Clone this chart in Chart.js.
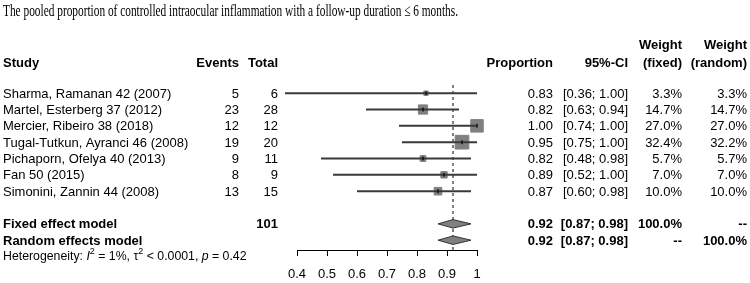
<!DOCTYPE html>
<html>
<head>
<meta charset="utf-8">
<script src="https://cdn.jsdelivr.net/npm/chart.js@4.4.1/dist/chart.umd.min.js"></script>
<style>
    html, body { margin: 0; padding: 0; background: #fff; }
    #wrap { width: 750px; height: 283px; }
</style>
</head>
<body>
<div id="wrap"><canvas id="forest" width="750" height="283"></canvas></div>
<script>
// ---------------------------------------------------------------------------
// Data
// ---------------------------------------------------------------------------
const titleText = "The pooled proportion of controlled intraocular inflammation with a follow-up duration \u2264 6 months.";

const studies = [
    "Sharma, Ramanan 42 (2007)",
    "Martel, Esterberg 37 (2012)",
    "Mercier, Ribeiro 38 (2018)",
    "Tugal-Tutkun, Ayranci 46 (2008)",
    "Pichaporn, Ofelya 40 (2013)",
    "Fan 50 (2015)",
    "Simonini, Zannin 44 (2008)",
];
const events = [5, 23, 12, 19, 9, 8, 13];
const totals = [6, 28, 12, 20, 11, 9, 15];
const proportions = [0.83, 0.82, 1.00, 0.95, 0.82, 0.89, 0.87];
const ciLow = [0.36, 0.63, 0.74, 0.75, 0.48, 0.52, 0.60];
const ciHigh = [1.00, 0.94, 1.00, 1.00, 0.98, 1.00, 0.98];
const weightFixed = [3.3, 14.7, 27.0, 32.4, 5.7, 7.0, 10.0];
const weightRandom = [3.3, 14.7, 27.0, 32.2, 5.7, 7.0, 10.0];

const models = ["Fixed effect model", "Random effects model"];
const modelEst = [0.92, 0.92];
const modelLow = [0.87, 0.87];
const modelHigh = [0.98, 0.98];
const modelWeightFixed = ["100.0%", "--"];
const modelWeightRandom = ["--", "100.0%"];
const totalPatients = 101;

const hetI2 = "1%";
const hetTau2 = "< 0.0001";
const hetP = "0.42";

const axisTicks = [0.4, 0.5, 0.6, 0.7, 0.8, 0.9, 1.0];

// ---------------------------------------------------------------------------
// Layout
// ---------------------------------------------------------------------------
const SANS = "'Liberation Sans', Arial, sans-serif";
const SERIF = "'Liberation Serif', 'Times New Roman', serif";
const Y_TOP = -0.5;        // top of the plotting band (dashed line start)
const Y_BOTTOM = 9.6;      // axis line
const modelRows = [8, 9];  // rows of the two summary diamonds
const DIAMOND_HALF = 0.26; // half height of a diamond, in rows

const COL = {
    study: 3,
    events: 239,
    total: 278,
    prop: 553,
    ci: 628,
    wFixed: 682,
    wRandom: 747,
};

/**
 * Draw a run of text pieces one after another from x
 */
function drawPieces(ctx, pieces, x, y) {
    let cx = x;
    for (const p of pieces) {
        ctx.font = p.font;
        ctx.fillText(p.text, cx, y + (p.dy || 0));
        cx += ctx.measureText(p.text).width;
    }
}

const forestTextPlugin = {
    id: "forestText",
    afterDraw(chart) {
        const ctx = chart.ctx;
        const yScale = chart.scales.y;
        const rowY = (r) => yScale.getPixelForValue(r) + 1;
        const text = (s, x, y, align) => {
            ctx.textAlign = align;
            ctx.fillText(s, x, y);
        };

        ctx.save();
        ctx.fillStyle = "#000";
        ctx.textBaseline = "middle";

        // title, condensed like the original
        ctx.font = "17px " + SERIF;
        ctx.textAlign = "left";
        ctx.fillText(titleText, 3, 12, 455);

        // column headers
        ctx.font = "bold 13px " + SANS;
        text("Weight", COL.wFixed, 45, "right");
        text("Weight", COL.wRandom, 45, "right");
        text("Study", COL.study, 63, "left");
        text("Events", COL.events, 63, "right");
        text("Total", COL.total, 63, "right");
        text("Proportion", COL.prop, 63, "right");
        text("95%-CI", COL.ci, 63, "right");
        text("(fixed)", COL.wFixed, 63, "right");
        text("(random)", COL.wRandom, 63, "right");

        // study rows
        ctx.font = "13px " + SANS;
        studies.forEach((name, i) => {
            const y = rowY(i);
            text(name, COL.study, y, "left");
            text(String(events[i]), COL.events, y, "right");
            text(String(totals[i]), COL.total, y, "right");
            text(proportions[i].toFixed(2), COL.prop, y, "right");
            text(`[${ciLow[i].toFixed(2)}; ${ciHigh[i].toFixed(2)}]`, COL.ci, y, "right");
            text(weightFixed[i].toFixed(1) + "%", COL.wFixed, y, "right");
            text(weightRandom[i].toFixed(1) + "%", COL.wRandom, y, "right");
        });

        // summary rows
        ctx.font = "bold 13px " + SANS;
        models.forEach((name, m) => {
            const y = rowY(modelRows[m]);
            text(name, COL.study, y, "left");
            if (m === 0) text(String(totalPatients), COL.total, y, "right");
            text(modelEst[m].toFixed(2), COL.prop, y, "right");
            text(`[${modelLow[m].toFixed(2)}; ${modelHigh[m].toFixed(2)}]`, COL.ci, y, "right");
            text(modelWeightFixed[m], COL.wFixed, y, "right");
            text(modelWeightRandom[m], COL.wRandom, y, "right");
        });

        // heterogeneity line
        ctx.textAlign = "left";
        const f = "12.3px " + SANS;
        const fi = "italic 12.3px " + SANS;
        const fs = "9px " + SANS;
        drawPieces(ctx, [
            { text: "Heterogeneity: ", font: f },
            { text: "I", font: fi },
            { text: "2", font: fs, dy: -5 },
            { text: " = " + hetI2 + ", \u03c4", font: f },
            { text: "2", font: fs, dy: -5 },
            { text: " " + hetTau2 + ", ", font: f },
            { text: "p", font: fi },
            { text: " = " + hetP, font: f },
        ], 3, 257);

        ctx.restore();
    },
};

// ---------------------------------------------------------------------------
// Datasets
// ---------------------------------------------------------------------------
const dashedLine = {
    type: "line",
    data: [{ x: modelEst[0], y: Y_TOP }, { x: modelEst[0], y: Y_BOTTOM }],
    borderColor: "#000",
    borderWidth: 1,
    borderDash: [3, 3],
    pointRadius: 0,
    order: 6,
};

const ciLines = studies.map((s, i) => ({
    type: "line",
    data: [{ x: ciLow[i], y: i }, { x: ciHigh[i], y: i }],
    borderColor: "#3a3a3a",
    borderWidth: 2,
    pointRadius: 0,
    order: 3,
}));

const squares = {
    type: "scatter",
    data: proportions.map((p, i) => ({ x: p, y: i })),
    pointStyle: "rect",
    pointRadius: (c) => 1.7 * Math.sqrt(weightFixed[c.dataIndex]),
    backgroundColor: "#808080",
    borderColor: "#808080",
    borderWidth: 1,
    order: 4,
};

const estTicks = {
    type: "scatter",
    data: proportions.map((p, i) => ({ x: p, y: i })),
    pointStyle: "line",
    rotation: 90,
    pointRadius: 2,
    borderColor: "#000",
    borderWidth: 1.2,
    order: 1,
};

const diamonds = models.map((m, k) => {
    const r = modelRows[k];
    return {
        type: "line",
        data: [
            { x: modelLow[k], y: r },
            { x: modelEst[k], y: r - DIAMOND_HALF },
            { x: modelHigh[k], y: r },
            { x: modelEst[k], y: r + DIAMOND_HALF },
            { x: modelLow[k], y: r },
        ],
        borderColor: "#333",
        borderWidth: 1,
        backgroundColor: "#808080",
        fill: "shape",
        pointRadius: 0,
        tension: 0,
        order: 2,
    };
});

// ---------------------------------------------------------------------------
// Chart
// ---------------------------------------------------------------------------
new Chart(document.getElementById("forest").getContext("2d"), {
    type: "scatter",
    data: {
        datasets: [dashedLine, ...ciLines, squares, estTicks, ...diamonds].map((d) => ({
            clip: false,
            showLine: d.type === "line",
            ...d,
        })),
    },
    options: {
        responsive: false,
        animation: false,
        events: [],
        devicePixelRatio: 1,
        layout: { padding: { left: 297, right: 273, top: 85, bottom: 0 } },
        plugins: {
            legend: { display: false },
            tooltip: { enabled: false },
        },
        scales: {
            x: {
                type: "linear",
                min: axisTicks[0],
                max: axisTicks[axisTicks.length - 1],
                afterBuildTicks: (scale) => {
                    scale.ticks = axisTicks.map((v) => ({ value: v }));
                },
                afterFit: (scale) => {
                    scale.height = 33;
                },
                ticks: {
                    color: "#000",
                    font: { family: SANS, size: 13 },
                    padding: 11,
                    maxRotation: 0,
                    autoSkip: false,
                    callback: (v) => String(Math.round(v * 10) / 10),
                },
                grid: {
                    drawOnChartArea: false,
                    drawTicks: true,
                    tickLength: 6,
                    color: "#000",
                    lineWidth: 1,
                },
                border: { display: true, color: "#000", width: 1 },
            },
            y: {
                type: "linear",
                display: false,
                reverse: true,
                min: Y_TOP,
                max: Y_BOTTOM,
            },
        },
    },
    plugins: [forestTextPlugin],
});
</script>
</body>
</html>
